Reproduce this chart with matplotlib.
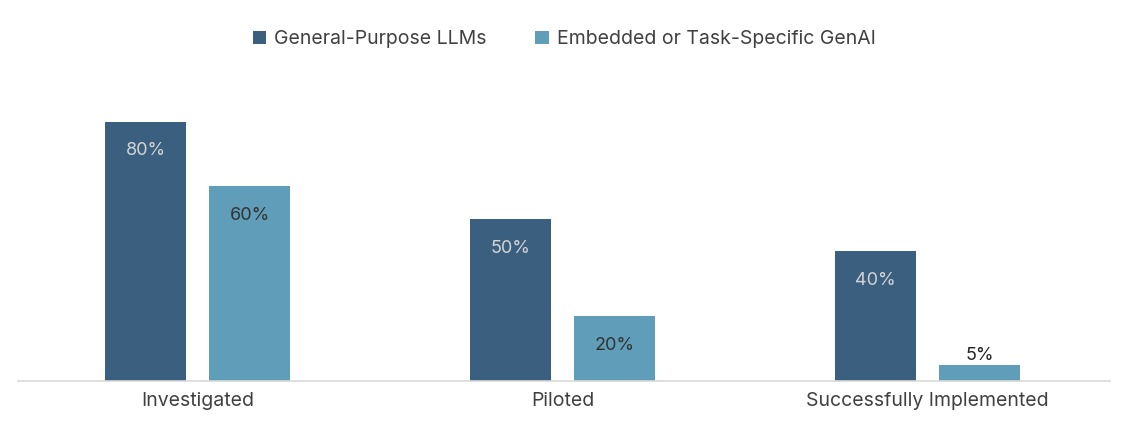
import numpy as np
import matplotlib.pyplot as plt

categories = ['Investigated', 'Piloted', 'Successfully Implemented']
general = [80, 50, 40]
embedded = [60, 20, 5]
series_names = ['General-Purpose LLMs', 'Embedded or Task-Specific GenAI']

dark = '#3b5f7e'
light = '#5f9db9'

plt.rcParams['font.family'] = ['Inter', 'DejaVu Sans']

fig = plt.figure(figsize=(11.28, 4.38), dpi=100)
ax = fig.add_axes([0.016, 0.130, 0.968, 0.733])

x = np.arange(len(categories))
w = 0.222
off = 0.1425
b1 = ax.bar(x - off, general, w, color=dark, label=series_names[0])
b2 = ax.bar(x + off, embedded, w, color=light, label=series_names[1])

for xi, v in zip(x, general):
    ax.text(xi - off, v - 9, f'{v}%', ha='center', va='center', fontsize=13, color='#d4d4d4')
for xi, v in zip(x, embedded):
    if v >= 10:
        ax.text(xi + off, v - 9, f'{v}%', ha='center', va='center', fontsize=13, color='#333333')
    else:
        ax.text(xi + off, v + 3, f'{v}%', ha='center', va='center', fontsize=13, color='#222222')

ax.set_xlim(-0.493, 2.5)
ax.set_ylim(0, 99)
ax.set_xticks(x)
ax.set_xticklabels(categories, fontsize=14, color='#404040')
ax.tick_params(axis='x', length=0, pad=8)
ax.set_yticks([])
for s in ['top', 'right', 'left']:
    ax.spines[s].set_visible(False)
ax.spines['bottom'].set_color('#d9d9d9')
ax.spines['bottom'].set_linewidth(1.2)

fig.legend(handles=[b1, b2], loc='center', bbox_to_anchor=(0.5, 0.91), ncol=2, frameon=False,
           fontsize=14, labelcolor='#404040', handlelength=0.7, handleheight=0.7,
           handletextpad=0.4, columnspacing=2.5)

fig.savefig('out.png', dpi=100)
